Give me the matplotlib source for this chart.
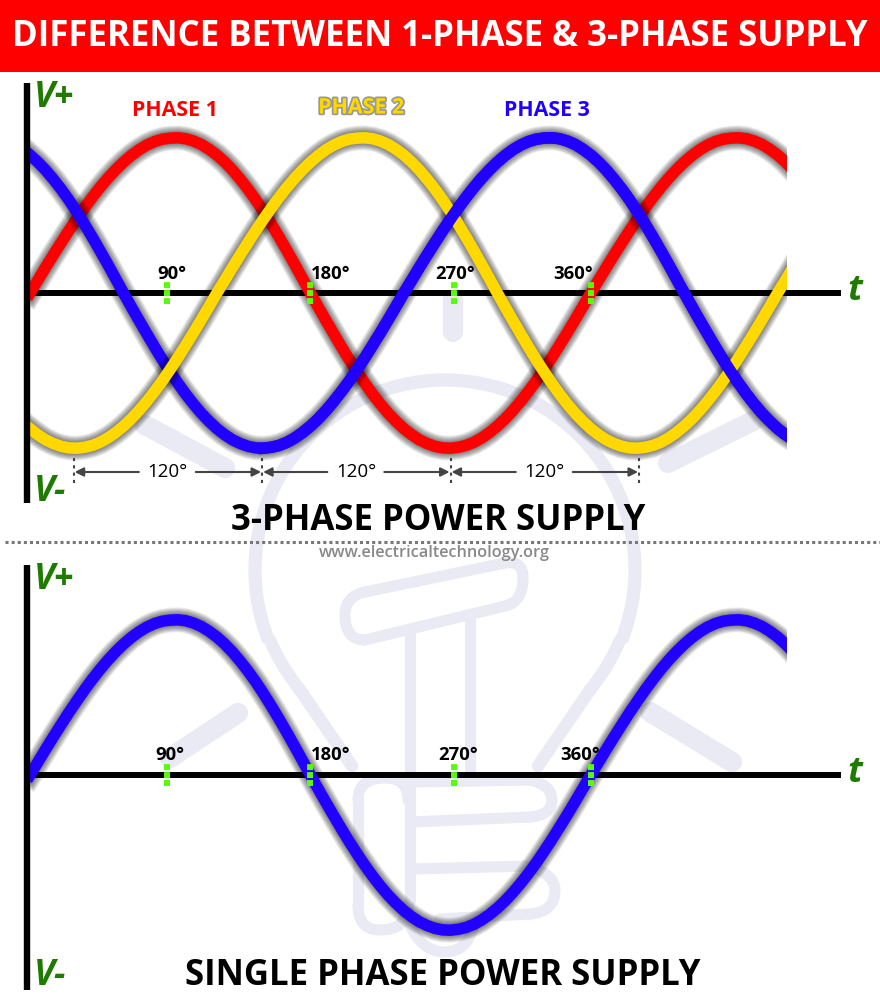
import matplotlib
matplotlib.use('Agg')
import matplotlib.pyplot as plt
import matplotlib.patheffects as pe
from matplotlib.patches import Arc, Rectangle, PathPatch
from matplotlib.path import Path

plt.rcParams['font.family'] = ['Open Sans', 'DejaVu Sans']

# one cycle of the wave, one value every 5 degrees
cycle = [0, .082, .165, .246, .325, .403, .477, .549, .617, .681, .740, .794, .843, .886, .923, .953, .976, .991,
         .998, 1, .994, .979, .957, .926, .889, .844, .792, .733, .669, .599, .523, .443, .359, .272, .183, .092,
         0, -.089, -.177, -.263, -.348, -.430, -.508, -.582, -.652, -.716, -.775, -.827, -.874, -.913, -.946, -.970,
         -.988, -.998, -1, -.994, -.982, -.962, -.934, -.899, -.858, -.811, -.757, -.698, -.634, -.566, -.492, -.416,
         -.336, -.255, -.171, -.086]
degrees = list(range(0, 495, 5))
phase1 = (cycle * 3)[:99]
phase2 = (cycle * 3)[48:147]
phase3 = (cycle * 3)[24:123]
single = phase1

tick_deg = [88, 180, 272, 360]
tick_labels = ['90°', '180°', '270°', '360°']
gap_deg = [28, 149, 270, 391]

RED, YELLOW, BLUE = '#ff0000', '#ffd800', '#2200ff'
GREEN = '#1f7a00'
TICK = '#55ff00'
WM = '#e9eaf3'

fig = plt.figure(figsize=(8.8, 10), dpi=100)

bg = fig.add_axes([0, 0, 1, 1], zorder=0)
fg = fig.add_axes([0, 0, 1, 1], zorder=5)
for a in (bg, fg):
    a.set_xlim(0, 880)
    a.set_ylim(1000, 0)
    a.axis('off')
fg.patch.set_alpha(0)


def stroke(points, lw=8):
    xs, ys = zip(*points)
    bg.plot(xs, ys, color=WM, lw=lw, solid_capstyle='round', solid_joinstyle='round')


def curve(points, lw=8):
    # points: start, then (ctrl, end) pairs
    verts = [points[0]]
    codes = [Path.MOVETO]
    for c, e in points[1:]:
        verts += [c, e]
        codes += [Path.CURVE3, Path.CURVE3]
    bg.add_patch(PathPatch(Path(verts, codes), fill=False, edgecolor=WM, lw=lw, capstyle='round'))


# light bulb watermark
bg.add_patch(Arc((445, 570), 380, 380, theta1=158, theta2=382, edgecolor=WM, lw=9.5))
curve([(270, 640), ((280, 665), (300, 690))], lw=9)
stroke([(300, 690), (352, 766)], lw=9)
curve([(620, 640), ((610, 665), (590, 690))], lw=9)
stroke([(590, 690), (538, 766)], lw=9)
for p, q in [((145, 425), (225, 468)), ((755, 420), (668, 463)), ((453, 300), (453, 332)),
             ((238, 713), (170, 758)), ((650, 712), (732, 762))]:
    stroke([p, q], lw=14.5)
# filament head
curve([(365, 592), ((345, 596), (345, 615)), ((345, 640), (365, 640))], lw=8)
stroke([(365, 592), (505, 563)], lw=8)
curve([(505, 563), ((523, 560), (523, 578)), ((523, 602), (505, 606))], lw=8)
stroke([(505, 606), (365, 640)], lw=8)
# stem and fist
stroke([(410, 632), (410, 900)], lw=8)
stroke([(470, 618), (470, 772)], lw=8)
curve([(358, 905), ((358, 930), (380, 930)), ((408, 930), (408, 905))], lw=8)
stroke([(358, 905), (358, 800)], lw=8)
curve([(358, 800), ((358, 778), (385, 778)), ((408, 778), (408, 800))], lw=8)
stroke([(412, 782), (530, 780)], lw=8)
curve([(530, 780), ((552, 785), (552, 800)), ((552, 815), (530, 817))], lw=8)
stroke([(412, 822), (530, 817)], lw=8)
stroke([(412, 869), (530, 866)], lw=8)
curve([(530, 866), ((555, 875), (555, 890)), ((555, 912), (530, 914))], lw=8)
stroke([(530, 914), (440, 919)], lw=8)
curve([(408, 920), ((420, 952), (445, 952)), ((470, 952), (475, 919))], lw=8)

# title banner
bg.add_patch(Rectangle((0, 0), 880, 72, facecolor='#fe0000', edgecolor='none'))
fg.text(440, 37, 'DIFFERENCE BETWEEN 1-PHASE & 3-PHASE SUPPLY', color='white', fontsize=25,
        fontweight='bold', ha='center', va='center')

# vertical axis lines
for x0, y0, y1 in [(27, 83, 503), (27, 565, 990)]:
    fg.plot([x0, x0], [y0, y1], color='black', lw=4.6, solid_capstyle='butt')


def wave_axes(zero_y):
    h = 194
    ax = fig.add_axes([30 / 880, (1000 - zero_y - h) / 1000, 757 / 880, 2 * h / 1000], zorder=2)
    ax.set_xlim(0, 486)
    ax.set_ylim(-1.25, 1.25)
    ax.axis('off')
    ax.patch.set_alpha(0)
    ax.axhline(0, xmin=0, xmax=808 / 757, color='black', lw=4.3, clip_on=False, zorder=1)
    return ax


def wave(ax, xs, values, color, z):
    # soft grey glow built from stacked wide strokes
    shadow = [pe.Stroke(linewidth=w, foreground='black', alpha=0.06) for w in (18, 17, 16, 15, 14, 13, 12, 11, 10, 9)]
    ax.plot(xs, values, color=color, lw=8.3, zorder=z, solid_joinstyle='round',
            path_effects=shadow + [pe.Normal()])


def ticks(ax):
    ax.vlines(tick_deg, -0.071, 0.071, color=TICK, lw=4.3, linestyles=[(0, (1, 0.33))], zorder=10)


top = wave_axes(293)
wave(top, degrees, phase1, RED, 3)
wave(top, degrees, phase3, BLUE, 4)
wave(top, degrees, phase2, YELLOW, 5)
# blue passes over yellow from the second crossing on
top.plot(degrees[30:], phase3[30:], color=BLUE, lw=8.3, zorder=6, solid_joinstyle='round')
ticks(top)

bottom = wave_axes(775)
wave(bottom, degrees, single, BLUE, 3)
ticks(bottom)

# tick labels
for lab, x in zip(tick_labels, [172, 331, 455, 573]):
    fg.text(x, 274, lab, fontsize=13.3, fontweight='bold', ha='center', va='center')
for lab, x in zip(tick_labels, [170, 331, 458, 580]):
    fg.text(x, 755, lab, fontsize=13.3, fontweight='bold', ha='center', va='center')

# axis letters
for y, s in [(98, 'V+'), (492, 'V-'), (580, 'V+'), (976, 'V-')]:
    fg.text(34, y, s, color=GREEN, fontsize=25.5, fontweight='bold', fontstyle='italic', ha='left', va='center')
fg.text(855, 291, 't', color=GREEN, fontsize=26, fontweight='bold', fontstyle='italic', ha='center', va='center')
fg.text(855, 773, 't', color=GREEN, fontsize=26, fontweight='bold', fontstyle='italic', ha='center', va='center')

# phase labels
fg.text(175, 110, 'PHASE 1', color=RED, fontsize=15.4, fontweight='bold', ha='center', va='center')
fg.text(361, 108, 'PHASE 2', color=YELLOW, fontsize=15.4, fontweight='bold', ha='center', va='center',
        path_effects=[pe.withStroke(linewidth=2.5, foreground='#555555', alpha=0.6)])
fg.text(547, 111, 'PHASE 3', color=BLUE, fontsize=15.4, fontweight='bold', ha='center', va='center')

# 120 degree spans
for a, b in zip(gap_deg[:-1], gap_deg[1:]):
    x0 = 30 + a * 757 / 486
    x1 = 30 + b * 757 / 486
    xm = (x0 + x1) / 2
    fg.annotate('', xy=(x0 + 1, 472), xytext=(xm - 29, 472),
                arrowprops=dict(arrowstyle='-|>', color='#444444', lw=1.5, mutation_scale=13, shrinkA=0, shrinkB=0))
    fg.annotate('', xy=(x1 - 1, 472), xytext=(xm + 28, 472),
                arrowprops=dict(arrowstyle='-|>', color='#444444', lw=1.5, mutation_scale=13, shrinkA=0, shrinkB=0))
    fg.text(xm, 472, '120°', fontsize=13.5, ha='center', va='center')
for d in gap_deg:
    x0 = 30 + d * 757 / 486
    fg.plot([x0, x0], [458, 484], color='#444444', lw=1.5, ls=(0, (1.5, 2)))

# sub titles, divider, site
fg.text(438, 521, '3-PHASE POWER SUPPLY', fontsize=25, fontweight='bold', ha='center', va='center')
fg.text(443, 976, 'SINGLE PHASE POWER SUPPLY', fontsize=25, fontweight='bold', ha='center', va='center')
fg.plot([5, 880], [542, 542], color='#777777', lw=2.2, ls=(0, (1, 1)))
fg.text(434, 553, 'www.electricaltechnology.org', color='#888888', fontsize=11.7, fontweight='semibold',
        ha='center', va='center')

fig.savefig('out.png', dpi=100)
